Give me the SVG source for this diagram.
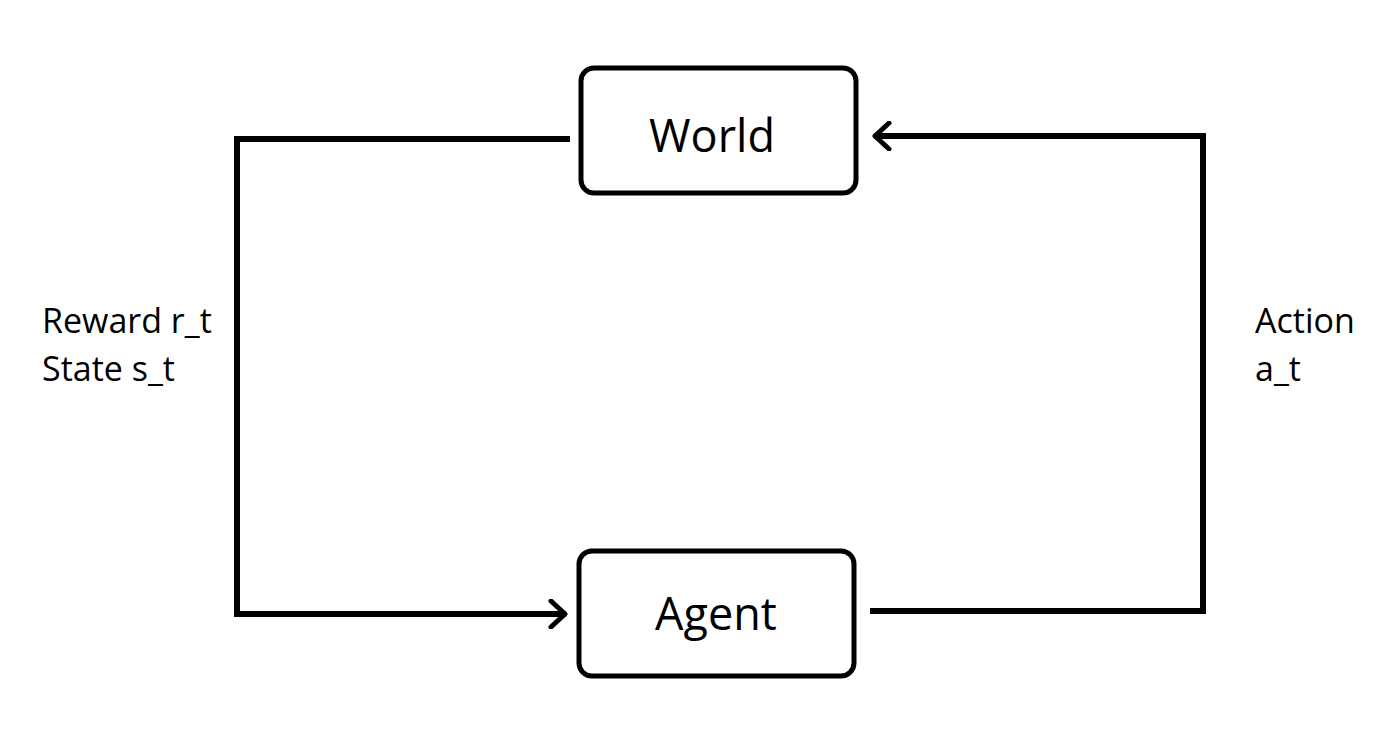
<svg xmlns="http://www.w3.org/2000/svg" width="1400" height="734" viewBox="0 0 1400 734">
<style>
.box{fill:#fff;stroke:#000;stroke-width:5}
.ln{fill:none;stroke:#000;stroke-width:6}
.t{font-family:"Open Sans","Liberation Sans",sans-serif;fill:#000}
.big{font-size:45px;text-anchor:middle}
.lbl{font-size:34px}
</style>
<defs>
<marker id="arr" viewBox="0 0 20 30" refX="18" refY="15" markerWidth="20" markerHeight="30" markerUnits="userSpaceOnUse" orient="auto">
<path d="M3,2 L17,15 L3,28" fill="none" stroke="#000" stroke-width="5" stroke-linecap="round" stroke-linejoin="round"/>
</marker>
</defs>
<rect width="1400" height="734" fill="#fff"/>
<g id="connectors">
<path class="ln" d="M570,139 H237 V614 H566" marker-end="url(#arr)"/>
<path class="ln" d="M870,611 H1203 V136 H874" marker-end="url(#arr)"/>
</g>
<g id="world">
<rect class="box" x="581" y="68" width="275" height="125" rx="13"/>
<text class="t big" x="712" y="152">World</text>
</g>
<g id="agent">
<rect class="box" x="579" y="551" width="275" height="125" rx="13"/>
<text class="t big" x="716" y="630">Agent</text>
</g>
<g id="label-left">
<text class="t lbl" x="42" y="333">Reward r_t</text>
<text class="t lbl" x="42" y="381">State s_t</text>
</g>
<g id="label-right">
<text class="t lbl" x="1255" y="333">Action</text>
<text class="t lbl" x="1255" y="381">a_t</text>
</g>
</svg>
